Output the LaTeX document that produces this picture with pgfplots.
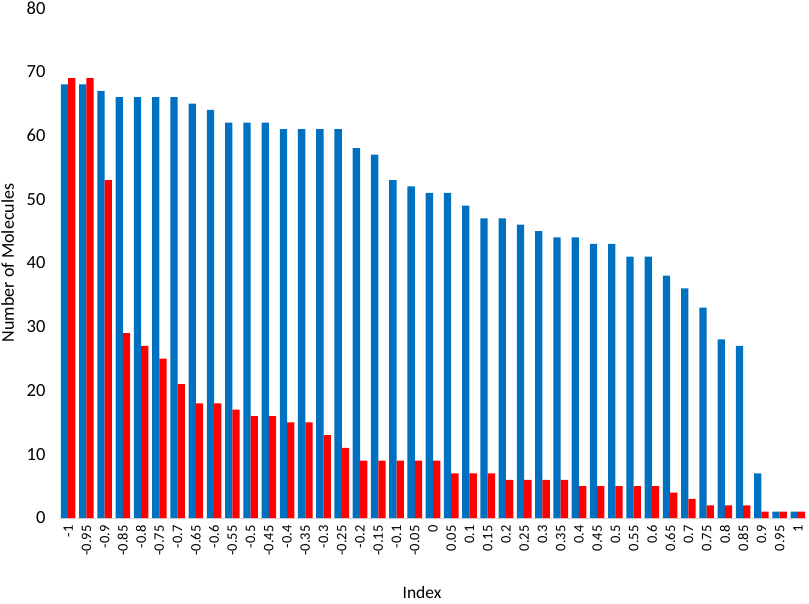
\documentclass[border=0pt]{standalone}
\usepackage{pgfplots}
\pgfplotsset{compat=1.18}
\usepackage{fontspec}
\setmainfont{Carlito}
\definecolor{barblue}{HTML}{0070C0}
\definecolor{barred}{HTML}{FF0000}
\definecolor{axgray}{HTML}{D9D9D9}
\begin{document}
\begin{tikzpicture}
\begin{axis}[
  at={(59pt,85pt)}, anchor=south west,
  scale only axis, width=748pt, height=510pt,
  ybar=0pt, bar width=7.3pt,
  xmin=-0.5, xmax=40.5, ymin=0, ymax=80,
  ytick={0,10,...,80},
  xtick={0,1,...,40},
  xticklabels={-1,-0.95,-0.9,-0.85,-0.8,-0.75,-0.7,-0.65,-0.6,-0.55,-0.5,-0.45,-0.4,-0.35,-0.3,-0.25,-0.2,-0.15,-0.1,-0.05,0,0.05,0.1,0.15,0.2,0.25,0.3,0.35,0.4,0.45,0.5,0.55,0.6,0.65,0.7,0.75,0.8,0.85,0.9,0.95,1},
  /pgf/number format/assume math mode=true,
  axis x line*=bottom, axis y line*=left,
  x axis line style={draw=axgray, line width=1pt, -},
  y axis line style={draw=none},
  major tick length=0pt,
  xticklabel style={rotate=90, anchor=east, font=\fontsize{14.5}{16}\selectfont, xshift=-4pt},
  yticklabel style={font=\fontsize{18.5}{20}\selectfont, anchor=east, xshift=-10pt},
  xlabel={Index},
  ylabel={Number of Molecules},
  xlabel style={font=\fontsize{17.5}{20}\selectfont, at={(axis description cs:0.4853,0)}, anchor=base, yshift=-80pt},
  ylabel style={font=\fontsize{18}{20}\selectfont, at={(axis description cs:0,0.5)}, anchor=base, yshift=45pt},
  clip=false,
]
\addplot[fill=barblue, draw=none] coordinates {
(0,68) (1,68) (2,67) (3,66) (4,66) (5,66) (6,66) (7,65) (8,64) (9,62)
(10,62) (11,62) (12,61) (13,61) (14,61) (15,61) (16,58) (17,57) (18,53) (19,52)
(20,51) (21,51) (22,49) (23,47) (24,47) (25,46) (26,45) (27,44) (28,44) (29,43)
(30,43) (31,41) (32,41) (33,38) (34,36) (35,33) (36,28) (37,27) (38,7) (39,1) (40,1)};
\addplot[fill=barred, draw=none] coordinates {
(0,69) (1,69) (2,53) (3,29) (4,27) (5,25) (6,21) (7,18) (8,18) (9,17)
(10,16) (11,16) (12,15) (13,15) (14,13) (15,11) (16,9) (17,9) (18,9) (19,9)
(20,9) (21,7) (22,7) (23,7) (24,6) (25,6) (26,6) (27,6) (28,5) (29,5)
(30,5) (31,5) (32,5) (33,4) (34,3) (35,2) (36,2) (37,2) (38,1) (39,1) (40,1)};
\end{axis}
\pgfresetboundingbox
\path[use as bounding box] (0,0) rectangle (809pt,603pt);
\end{tikzpicture}
\end{document}
